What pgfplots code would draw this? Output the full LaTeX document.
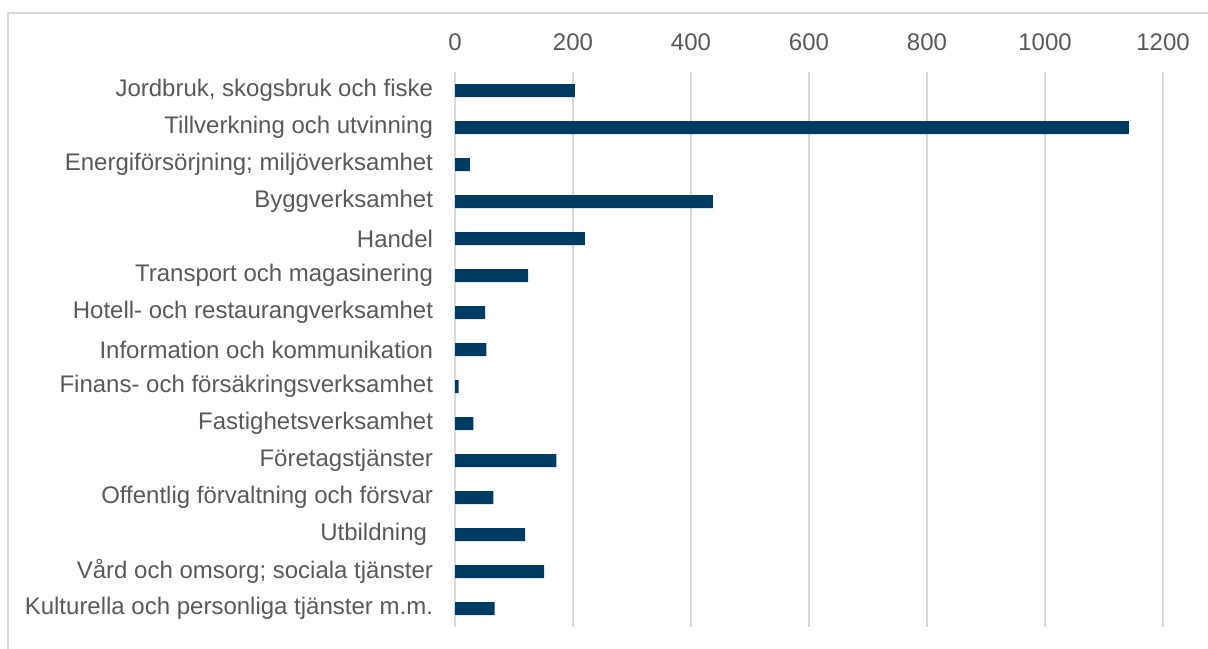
\documentclass[border=0pt]{standalone}
\usepackage{pgfplots}
\pgfplotsset{compat=1.18}
\usepackage{fontspec}
\setmainfont{Liberation Sans}
\definecolor{barblue}{RGB}{0,59,100}
\definecolor{txtgray}{RGB}{89,89,89}
\definecolor{gridgray}{RGB}{217,217,217}
\begin{document}
\begin{tikzpicture}
\useasboundingbox (0,0) rectangle (604pt,324pt);
% outer chart frame
\draw[gridgray, line width=1pt] (4pt,-10pt) rectangle (620pt,317.5pt);
\begin{axis}[
    at={(227.5pt,10.5pt)}, anchor=south west,
    width=354pt, height=277.5pt, scale only axis,
    xmin=0, xmax=1200,
    ymin=-0.5, ymax=14.5,
    y dir=reverse,
    xtick={0,200,...,1200},
    ytick={0,...,14},
    yticklabels={
        {Jordbruk, skogsbruk och fiske},
        {Tillverkning och utvinning},
        {Energiförsörjning; miljöverksamhet},
        {Byggverksamhet},
        {Handel},
        {Transport och magasinering},
        {Hotell- och restaurangverksamhet},
        {Information och kommunikation},
        {Finans- och försäkringsverksamhet},
        {Fastighetsverksamhet},
        {Företagstjänster},
        {Offentlig förvaltning och försvar},
        {Utbildning\hspace*{3pt}},
        {Vård och omsorg; sociala tjänster},
        {Kulturella och personliga tjänster m.m.}},
    xticklabel pos=right,
    axis line style={draw=none},
    major tick length=0pt,
    xmajorgrids,
    major grid style={gridgray, line width=1pt},
    scaled x ticks=false,
    /pgf/number format/1000 sep={},
    /pgf/number format/assume math mode=true,
    tick label style={font=\fontsize{12}{14}\selectfont, text=txtgray, inner sep=0pt},
    xticklabel style={anchor=south, yshift=10.2pt},
    yticklabel style={anchor=east, xshift=-10.8pt},
    clip=false
]
    \addplot[xbar, bar width=6.5pt, fill=barblue, draw=none] coordinates {
        (203,0) (1142,1) (25,2) (437,3) (220,4)
        (124,5) (51,6) (53,7) (6,8) (31,9)
        (172,10) (65,11) (119,12) (151,13) (67,14)
    };
\end{axis}
\end{tikzpicture}
\end{document}
